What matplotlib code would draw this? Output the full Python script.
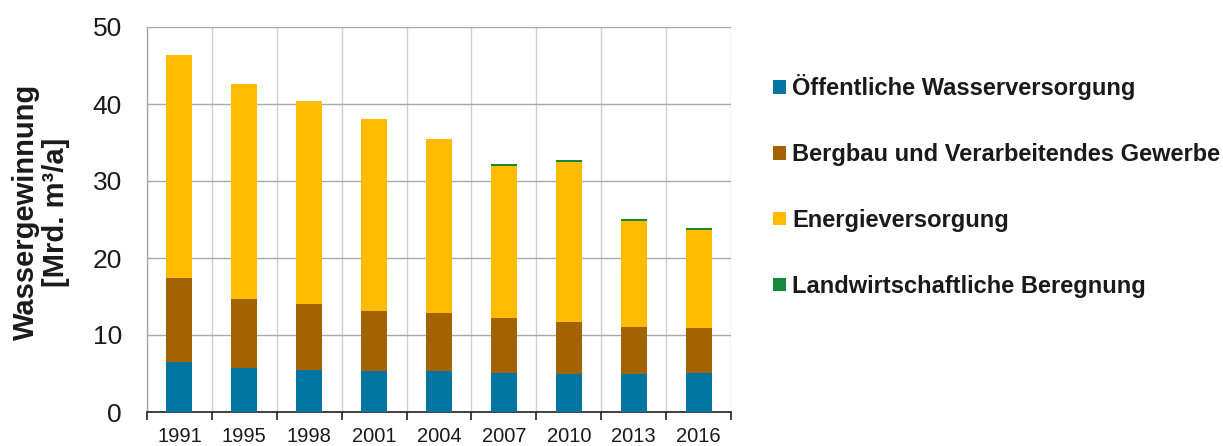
import matplotlib
matplotlib.use("Agg")
import matplotlib.pyplot as plt
import numpy as np

years = ["1991", "1995", "1998", "2001", "2004", "2007", "2010", "2013", "2016"]
oeffentlich = [6.5, 5.7, 5.5, 5.3, 5.3, 5.1, 5.0, 5.0, 5.1]
bergbau = [10.9, 9.0, 8.5, 7.8, 7.6, 7.1, 6.7, 6.1, 5.8]
energie = [29.0, 27.9, 26.4, 24.9, 22.6, 19.7, 20.8, 13.7, 12.8]
landwirtschaft = [0.0, 0.0, 0.0, 0.0, 0.0, 0.25, 0.25, 0.25, 0.25]

series_names = ["Öffentliche Wasserversorgung",
                "Bergbau und Verarbeitendes Gewerbe",
                "Energieversorgung",
                "Landwirtschaftliche Beregnung"]
colors = ["#0075A2", "#A36300", "#FFBB00", "#17873A"]

plt.rcParams['font.family'] = ['Liberation Sans', 'DejaVu Sans']

fig = plt.figure(figsize=(12.23, 4.46), dpi=100)
ax = fig.add_axes([147/1223, 34/446, (731-147)/1223, (412-27)/446])

x = np.arange(len(years))
bottom = np.zeros(len(years))
handles = []
for vals, name, col in zip([oeffentlich, bergbau, energie, landwirtschaft], series_names, colors):
    h = ax.bar(x, vals, width=0.4, bottom=bottom, color=col, label=name, zorder=3)
    handles.append(h)
    bottom = bottom + np.array(vals)

ax.set_xlim(-0.5, len(years) - 0.5)
ax.set_ylim(0, 50)
ax.set_yticks(np.arange(0, 51, 10))
ax.tick_params(axis='y', length=0, pad=18, labelsize=19, labelcolor='#1a1a1a')

# boundaries as major ticks (gridlines + tick marks), labels at centers as minor
ax.set_xticks(np.arange(-0.5, len(years), 1.0))
ax.set_xticklabels([])
ax.set_xticks(x, minor=True)
ax.set_xticklabels(years, minor=True)
ax.tick_params(axis='x', which='major', length=6, width=1.2, color='#222222', direction='out')
ax.tick_params(axis='x', which='minor', length=0, pad=10.5, labelsize=14.5, labelcolor='#1a1a1a')

ax.yaxis.grid(True, which='major', color='#a8a8a8', linewidth=1.0, zorder=0)
ax.xaxis.grid(True, which='major', color='#cfcfcf', linewidth=1.0, zorder=0)
ax.set_axisbelow(True)

for s in ['top', 'right']:
    ax.spines[s].set_visible(False)
ax.spines['left'].set_color('#a8a8a8')
ax.spines['left'].set_linewidth(1.0)
ax.spines['bottom'].set_color('#222222')
ax.spines['bottom'].set_linewidth(1.2)

fig.text(41/1223, 1 - 212/446, "Wassergewinnung\n[Mrd. m³/a]", rotation=90,
         ha='center', va='center', multialignment='center',
         fontsize=21, fontweight='bold', color='#1a1a1a', linespacing=1.12)

leg = fig.legend(handles=handles, labels=series_names, loc='upper left',
                 bbox_to_anchor=(764/1223, 1 - 65/446), frameon=False,
                 prop={'weight': 'bold', 'size': 17},
                 handlelength=0.55, handleheight=0.5, handletextpad=0.25,
                 labelspacing=1.81, borderaxespad=0)
for t in leg.get_texts():
    t.set_color('#1a1a1a')

fig.savefig("out.png", dpi=100)
